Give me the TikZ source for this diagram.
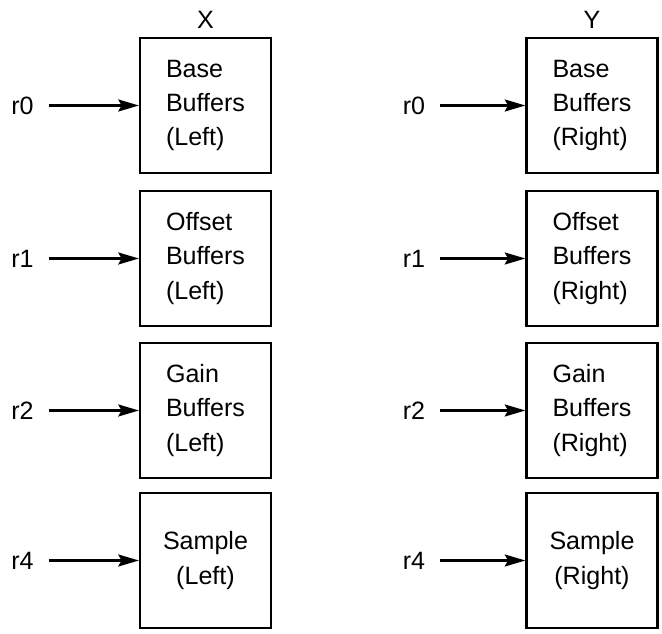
\documentclass[tikz,border=0pt]{standalone}
\usepackage{fontspec}
\setmainfont{Liberation Sans}
\usetikzlibrary{arrows.meta, positioning}
\tikzset{
  % scatola di un buffer
  buf/.style={draw=black, line width=1.9pt, minimum width=98pt, minimum height=101pt,
    align=left, inner sep=2pt},
  % etichetta del registro
  reg/.style={inner xsep=11pt, inner ysep=0pt},
  % freccia verso il buffer
  regarr/.style={-{Stealth[length=15.5pt, width=9pt, inset=2.5pt]}, line width=1.6pt},
  % titolo di colonna
  coltitle/.style={inner sep=0pt},
}
\newcommand{\bufrow}[7]{%
  \node[buf] (#1) at (#3,#4) {#6};
  \node[reg] (#2) at (#5,#4) {#7};
  \draw[regarr] (#2.east) -- (#1.west);
}
\begin{document}
\fontsize{18.8pt}{25.6pt}\selectfont
\begin{tikzpicture}[x=0.75pt, y=-0.75pt]
  \useasboundingbox (0,0) rectangle (662,634);
  \node[coltitle] (tx) at (205.5,20) {X};
  \node[coltitle] (ty) at (592,20) {Y};
  \bufrow{bx0}{rx0}{205.5}{105.5}{22.5}{Base\\Buffers\\(Left)}{r0}
  \bufrow{bx1}{rx1}{205.5}{258.5}{22.5}{Offset\\Buffers\\(Left)}{r1}
  \bufrow{bx2}{rx2}{205.5}{410.5}{22.5}{Gain\\Buffers\\(Left)}{r2}
  \bufrow{bx4}{rx4}{205.5}{560.5}{22.5}{\hfill Sample\hfill\null\\\hfill(Left)\hfill\null}{r4}
  \bufrow{by0}{ry0}{592}{105.5}{414}{Base\\Buffers\\(Right)}{r0}
  \bufrow{by1}{ry1}{592}{258.5}{414}{Offset\\Buffers\\(Right)}{r1}
  \bufrow{by2}{ry2}{592}{410.5}{414}{Gain\\Buffers\\(Right)}{r2}
  \bufrow{by4}{ry4}{592}{560.5}{414}{\hfill Sample\hfill\null\\\hfill(Right)\hfill\null}{r4}
\end{tikzpicture}
\end{document}
